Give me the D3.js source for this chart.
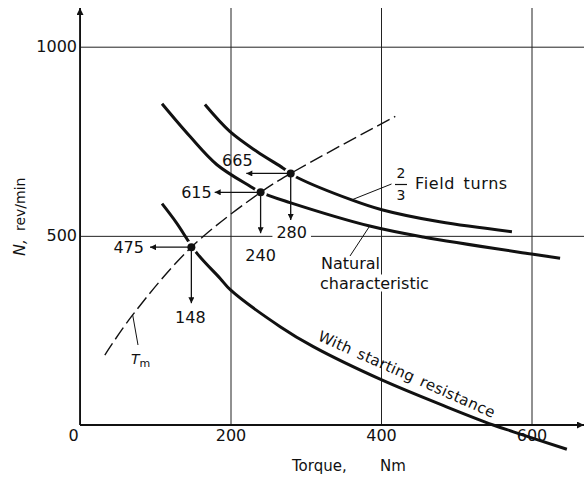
<!DOCTYPE html>
<html>
<head>
<meta charset="utf-8">
<script src="https://cdn.jsdelivr.net/npm/d3@7"></script>
<style>
  body { margin: 0; background: #fff; }
  svg { display: block; }
  text { font-family: "DejaVu Sans", sans-serif; fill: #111; }
  .grid line { stroke: #222; stroke-width: 1; }
  .curve { fill: none; stroke: #111; stroke-width: 3; }
  .tm { fill: none; stroke: #111; stroke-width: 1.4; stroke-dasharray: 14, 5; }
  .arrow { stroke: #111; stroke-width: 1.3; }
  .leader { stroke: #111; stroke-width: 1; }
</style>
</head>
<body>
<svg width="584" height="477"></svg>
<script>
var svg = d3.select('svg');

// ---- data ----
var torqueTicks = [0, 200, 400, 600];
var speedTicks = [500, 1000];

// 2/3 field turns
var fieldT = [166, 199, 235, 270, 280, 290, 361, 401, 478, 574];
var fieldN = [847, 776, 723, 679, 665, 653, 595, 569, 537, 511];

// natural characteristic
var naturalT = [109, 146, 182, 227, 240, 279, 385, 456, 600, 638];
var naturalN = [849, 763, 688, 630, 615, 588, 526, 497, 452, 441];

// with starting resistance
var startT = [109, 128, 155, 186, 200, 266, 310, 401, 487, 549, 576, 647];
var startN = [585, 535, 455, 388, 357, 260, 207, 119, 48, 0, -18, -64];

// load torque curve Tm (dashed)
var tmT = [33, 70, 148, 240, 280, 419];
var tmN = [185, 291, 470, 615, 665, 816];

// operating points
var pointT = [148, 240, 280];
var pointN = [470, 615, 665];
var speedLabels = ['475', '615', '665'];
var torqueLabels = ['148', '240', '280'];
var arrowLeftT = [93, 179, 221];
var arrowDownN = [322, 507, 542];

// ---- scales ----
var x = d3.scaleLinear().domain([0, 600]).range([80, 531.5]);
var y = d3.scaleLinear().domain([0, 1000]).range([425, 46.7]);
var topY = 8, rightX = 584;

function zip(a, b) { return a.map(function(d, i) { return [d, b[i]]; }); }
var line = d3.line().x(d => x(d[0])).y(d => y(d[1])).curve(d3.curveCatmullRom.alpha(0.5));

// markers
var defs = svg.append('defs');
defs.append('marker').attr('id', 'head')
    .attr('viewBox', '0 0 10 10').attr('refX', 10).attr('refY', 5)
    .attr('markerWidth', 9).attr('markerHeight', 6).attr('markerUnits', 'userSpaceOnUse')
    .attr('orient', 'auto')
    .append('path').attr('d', 'M0,0 L10,5 L0,10 Z').attr('fill', '#111');
defs.append('marker').attr('id', 'axhead')
    .attr('viewBox', '0 0 10 10').attr('refX', 10).attr('refY', 5)
    .attr('markerWidth', 12).attr('markerHeight', 7).attr('markerUnits', 'userSpaceOnUse')
    .attr('orient', 'auto')
    .append('path').attr('d', 'M0,0 L10,5 L0,10 Z').attr('fill', '#111');

// ---- grid via axes ----
var xAxis = d3.axisBottom(x).tickValues(torqueTicks).tickFormat(d3.format('d'))
    .tickSize(-(y(0) - topY)).tickPadding(5);
var gx = svg.append('g').attr('class', 'grid').attr('transform', 'translate(0,' + y(0) + ')').call(xAxis);
gx.select('.domain').remove();
gx.selectAll('text').style('font-size', '16px').attr('fill', '#111');
gx.selectAll('.tick').filter(d => d === 0).select('text').attr('dx', -7);

var yAxis = d3.axisLeft(y).tickValues(speedTicks).tickFormat(d3.format('d'))
    .tickSize(-(rightX - x(0))).tickPadding(3);
var gy = svg.append('g').attr('class', 'grid').attr('transform', 'translate(' + x(0) + ',0)').call(yAxis);
gy.select('.domain').remove();
gy.selectAll('text').style('font-size', '16px').attr('fill', '#111');

// main axes with arrows
svg.append('line').attr('x1', x(0)).attr('y1', y(0)).attr('x2', x(0)).attr('y2', topY)
    .attr('stroke', '#111').attr('stroke-width', 1.8).attr('marker-end', 'url(#axhead)');
svg.append('line').attr('x1', x(0)).attr('y1', y(0)).attr('x2', rightX).attr('y2', y(0))
    .attr('stroke', '#111').attr('stroke-width', 1.8).attr('marker-end', 'url(#axhead)');

// ---- curves ----
[zip(fieldT, fieldN), zip(naturalT, naturalN), zip(startT, startN)].forEach(function(d) {
    svg.append('path').attr('class', 'curve').attr('d', line(d));
});

// small gaps in the thick curves round the points
svg.selectAll('.gap').data(zip(pointT, pointN)).enter().append('circle')
    .attr('cx', d => x(d[0])).attr('cy', d => y(d[1])).attr('r', 6.5).attr('fill', '#fff');

svg.append('path').attr('class', 'tm').attr('d', line(zip(tmT, tmN)));

// ---- arrows and points ----
pointT.forEach(function(t, i) {
    svg.append('line').attr('class', 'arrow')
        .attr('x1', x(t)).attr('y1', y(pointN[i])).attr('x2', x(arrowLeftT[i])).attr('y2', y(pointN[i]))
        .attr('marker-end', 'url(#head)');
    svg.append('line').attr('class', 'arrow')
        .attr('x1', x(t)).attr('y1', y(pointN[i])).attr('x2', x(t)).attr('y2', y(arrowDownN[i]))
        .attr('marker-end', 'url(#head)');
    svg.append('circle').attr('cx', x(t)).attr('cy', y(pointN[i])).attr('r', 4).attr('fill', '#111');
});

// text with a white patch behind it
function label(g, txt, px, py, opts) {
    opts = opts || {};
    var t = g.append('text').attr('x', px).attr('y', py).text(txt)
        .style('font-size', (opts.size || 16) + 'px')
        .attr('text-anchor', opts.anchor || 'start')
        .attr('dominant-baseline', opts.base || 'central');
    if (opts.style) t.style('font-style', opts.style);
    if (opts.ls) t.style('letter-spacing', opts.ls + 'px');
    if (opts.ws) t.style('word-spacing', opts.ws + 'px');
    if (opts.bg) {
        var b = t.node().getBBox();
        g.insert('rect', function() { return t.node(); })
            .attr('x', b.x - opts.bg).attr('y', b.y + 1).attr('width', b.width + 2 * opts.bg).attr('height', b.height - 2)
            .attr('fill', '#fff');
    }
    return t;
}
var ann = svg.append('g');

// speed labels (left of horizontal arrows)
label(ann, speedLabels[0], x(arrowLeftT[0]) - 6, y(pointN[0]), {anchor: 'end'});
label(ann, speedLabels[1], x(arrowLeftT[1]) - 3, y(pointN[1]), {anchor: 'end'});
label(ann, speedLabels[2], x(arrowLeftT[2]) - 9, y(pointN[2]) - 13, {anchor: 'middle'});

// torque labels (below vertical arrows)
label(ann, torqueLabels[0], x(pointT[0]) - 1, y(arrowDownN[0]) + 14, {anchor: 'middle'});
label(ann, torqueLabels[1], x(pointT[1]), y(arrowDownN[1]) + 22, {anchor: 'middle'});
label(ann, torqueLabels[2], x(pointT[2]) + 1, y(arrowDownN[2]) + 13, {anchor: 'middle', bg: 4});

// white patch under the 600 tick so the falling curve breaks there
var t600 = gx.selectAll('.tick').filter(d => d === 600).select('text');
var b6 = t600.node().getBBox();
gx.selectAll('.tick').filter(d => d === 600).insert('rect', 'text')
    .attr('x', b6.x - 2).attr('y', b6.y).attr('width', b6.width + 4).attr('height', b6.height).attr('fill', '#fff');
gx.selectAll('.tick').filter(d => d === 600).raise();

// ---- curve labels ----
// 2/3 field turns
var fi = fieldT.indexOf(361);
ann.append('line').attr('class', 'leader')
    .attr('x1', x(fieldT[fi])).attr('y1', y(fieldN[fi])).attr('x2', 391.5).attr('y2', 184);
label(ann, '2', 401, 173, {anchor: 'middle', size: 14});
label(ann, '3', 401, 195, {anchor: 'middle', size: 14});
ann.append('line').attr('x1', 395).attr('x2', 407).attr('y1', 184.5).attr('y2', 184.5)
    .attr('stroke', '#111').attr('stroke-width', 1.2);
label(ann, 'Field turns', 415, 183, {size: 16, ls: 0.6, ws: 3});

// natural characteristic
var ni = naturalT.indexOf(385);
ann.append('line').attr('class', 'leader')
    .attr('x1', x(naturalT[ni])).attr('y1', y(naturalN[ni])).attr('x2', 350).attr('y2', 256);
label(ann, 'Natural', 321, 263, {size: 16});
label(ann, 'characteristic', 320, 283, {size: 16, bg: 1});

// with starting resistance
ann.append('text').attr('transform', 'translate(317,340) rotate(24)')
    .style('font-size', '15px').style('letter-spacing', '0.4px').style('word-spacing', '2px')
    .text('With starting resistance');

// Tm
var ti = tmT.indexOf(70);
ann.append('line').attr('class', 'leader')
    .attr('x1', x(tmT[ti])).attr('y1', y(tmN[ti])).attr('x2', 138).attr('y2', 345);
var tm = ann.append('text').attr('x', 131).attr('y', 364).style('font-size', '14px').style('font-style', 'italic');
tm.append('tspan').text('T');
tm.append('tspan').attr('dy', 3).style('font-size', '11px').style('font-style', 'normal').text('m');

// ---- axis titles ----
ann.append('text').attr('x', 292).attr('y', 471).style('font-size', '15px').text('Torque,');
ann.append('text').attr('x', 380).attr('y', 471).style('font-size', '15px').text('Nm');

ann.append('text').attr('transform', 'translate(25,256) rotate(-90)')
    .style('font-size', '16px').style('font-style', 'italic').text('N,');
ann.append('text').attr('transform', 'translate(25,231) rotate(-90)')
    .style('font-size', '14px').text('rev/min');
</script>
</body>
</html>
